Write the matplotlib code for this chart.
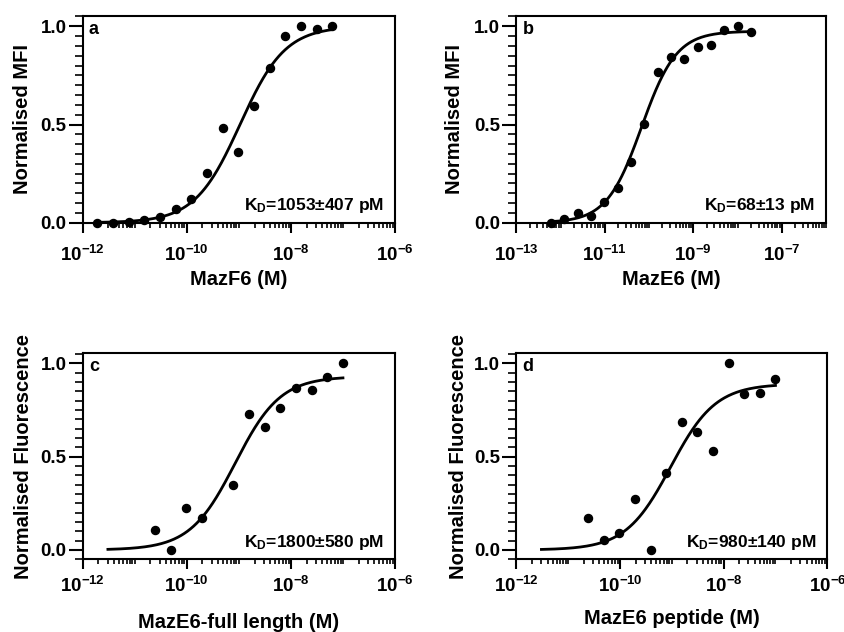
import numpy as np
import matplotlib
matplotlib.use("Agg")
import matplotlib.pyplot as plt
from matplotlib.ticker import FixedLocator, LogLocator, FuncFormatter, MultipleLocator, NullFormatter

plt.rcParams['font.family'] = ['Liberation Sans', 'DejaVu Sans']
plt.rcParams['font.weight'] = 'bold'
plt.rcParams['mathtext.fontset'] = 'custom'
plt.rcParams['mathtext.rm'] = 'Liberation Sans:bold'
plt.rcParams['mathtext.bf'] = 'Liberation Sans:bold'
plt.rcParams['mathtext.it'] = 'Liberation Sans:bold'

# ---------------- data ----------------
# panel a: MazF6, 2-fold dilutions from 62.5 nM
a_conc = 62.5e-9 / 2.0 ** np.arange(15, -1, -1)
a_mfi = [0.0, 0.0, 0.002, 0.014, 0.031, 0.068, 0.12, 0.251,
         0.484, 0.36, 0.596, 0.786, 0.951, 1.0, 0.985, 1.0]
a_top, a_ec50, a_hill = 1.0, 1.053e-9, 1.0

# panel b: MazE6, 2-fold dilutions from 20 nM
b_conc = 20e-9 / 2.0 ** np.arange(15, -1, -1)
b_mfi = [0.0, 0.020, 0.051, 0.034, 0.104, 0.175, 0.307, 0.501,
         0.769, 0.842, 0.834, 0.895, 0.903, 0.981, 1.0, 0.971]
b_top, b_ec50, b_hill = 0.975, 6.8e-11, 1.1

# panel c: MazE6 full length, 2-fold dilutions from 100 nM (one missing)
c_conc = 100e-9 / 2.0 ** np.array([12, 11, 10, 9, 7, 6, 5, 4, 3, 2, 1, 0])
c_fl = [0.105, 0.0, 0.227, 0.173, 0.348, 0.727, 0.661, 0.761,
        0.868, 0.855, 0.929, 1.0]
c_top, c_ec50, c_hill = 0.93, 8.5e-10, 1.0

# panel d: MazE6 peptide, 2-fold dilutions from 100 nM
d_conc = 100e-9 / 2.0 ** np.arange(12, -1, -1)
d_fl = [0.170, 0.054, 0.091, 0.273, 0.0, 0.414, 0.684, 0.632,
        0.529, 1.0, 0.836, 0.841, 0.916]
d_top, d_ec50, d_hill = 0.89, 9.5e-10, 1.0

curve_cd_range = (100e-9 / 2.0 ** 15, 100e-9)

a_ticks = [-12, -10, -8, -6]
b_ticks = [-13, -11, -9, -7]
c_ticks = [-12, -10, -8, -6]
d_ticks = [-12, -10, -8, -6]

panels = [
    dict(letter='a', conc=a_conc, y=a_mfi, top=a_top, ec50=a_ec50, hill=a_hill,
         crange=(a_conc[0], a_conc[-1]), xlim=(1e-12, 1e-6), ylim=(0, 1.054),
         ticks=a_ticks, kd='=1053±407 pM', xlabel='MazF6 (M)', ylabel='Normalised MFI',
         rect=[82.7, 15.7, 395.0, 222.7], xl=-0.272, yl=-0.192, pad=9),
    dict(letter='b', conc=b_conc, y=b_mfi, top=b_top, ec50=b_ec50, hill=b_hill,
         crange=(b_conc[0], b_conc[-1]), xlim=(1e-13, 1e-6), ylim=(0, 1.054),
         ticks=b_ticks, kd='=68±13 pM', xlabel='MazE6 (M)', ylabel='Normalised MFI',
         rect=[516.3, 15.7, 826.0, 222.7], xl=-0.272, yl=-0.198, pad=9),
    dict(letter='c', conc=c_conc, y=c_fl, top=c_top, ec50=c_ec50, hill=c_hill,
         crange=curve_cd_range, xlim=(1e-12, 1e-6), ylim=(-0.05, 1.054),
         ticks=c_ticks, kd='=1800±580 pM', xlabel='MazE6-full length (M)',
         ylabel='Normalised Fluorescence',
         rect=[82.7, 353.3, 395.0, 559.3], xl=-0.309, yl=-0.19, pad=5),
    dict(letter='d', conc=d_conc, y=d_fl, top=d_top, ec50=d_ec50, hill=d_hill,
         crange=curve_cd_range, xlim=(1e-12, 1e-6), ylim=(-0.05, 1.054),
         ticks=d_ticks, kd='=980±140 pM', xlabel='MazE6 peptide (M)',
         ylabel='Normalised Fluorescence',
         rect=[516.3, 353.3, 827.3, 559.3], xl=-0.285, yl=-0.185, pad=5),
]

W, H = 845, 632
fig = plt.figure(figsize=(W / 100, H / 100), dpi=100)


def exp_fmt(v, pos):
    e = int(round(np.log10(v)))
    return r'$\mathbf{10^{%d}}$' % e


for p in panels:
    l, t, r, b = p['rect']
    ax = fig.add_axes([l / W, 1 - b / H, (r - l) / W, (b - t) / H])
    ax.set_xscale('log')
    xs = np.logspace(np.log10(p['crange'][0]), np.log10(p['crange'][1]), 300)
    ys = p['top'] * xs ** p['hill'] / (p['ec50'] ** p['hill'] + xs ** p['hill'])
    ax.plot(xs, ys, color='black', lw=2.0, zorder=3)
    ax.plot(p['conc'], p['y'], 'o', color='black', ms=5.8, zorder=4, clip_on=False)
    ax.set_xlim(*p['xlim'])
    ax.set_ylim(*p['ylim'])
    ax.xaxis.set_major_locator(FixedLocator([10.0 ** e for e in p['ticks']]))
    ax.xaxis.set_major_formatter(FuncFormatter(exp_fmt))
    ax.xaxis.set_minor_locator(LogLocator(base=10, subs=np.arange(1, 10), numticks=50))
    ax.xaxis.set_minor_formatter(NullFormatter())
    ax.yaxis.set_major_locator(FixedLocator([0.0, 0.5, 1.0]))
    ax.yaxis.set_major_formatter(FuncFormatter(lambda v, pos: '%.1f' % v))
    ax.yaxis.set_minor_locator(MultipleLocator(0.05))
    for s in ax.spines.values():
        s.set_linewidth(1.5)
    ax.tick_params(axis='x', which='major', length=7, width=1.5, pad=p['pad'], labelsize=13.5)
    ax.tick_params(axis='x', which='minor', length=3.5, width=1.2)
    ax.tick_params(axis='y', which='major', length=10, width=1.5, pad=1.5, labelsize=13.5)
    ax.tick_params(axis='y', which='minor', length=5.5, width=1.2)
    ax.set_xlabel(p['xlabel'], fontsize=14.5, fontweight='bold')
    ax.set_ylabel(p['ylabel'], fontsize=14.5, fontweight='bold')
    ax.xaxis.set_label_coords(0.5, p['xl'])
    ax.xaxis.label.set_va('center')
    ax.yaxis.set_label_coords(p['yl'], 0.5)
    ax.yaxis.label.set_va('center')
    ax.text(0.02, 0.975, p['letter'], transform=ax.transAxes, ha='left', va='top',
            fontsize=13, fontweight='bold')
    ax.text(0.965, 0.035, r'$\mathbf{K_D}$' + p['kd'], transform=ax.transAxes,
            ha='right', va='bottom', fontsize=12.5, fontweight='bold')

fig.savefig('out.png', dpi=100)
